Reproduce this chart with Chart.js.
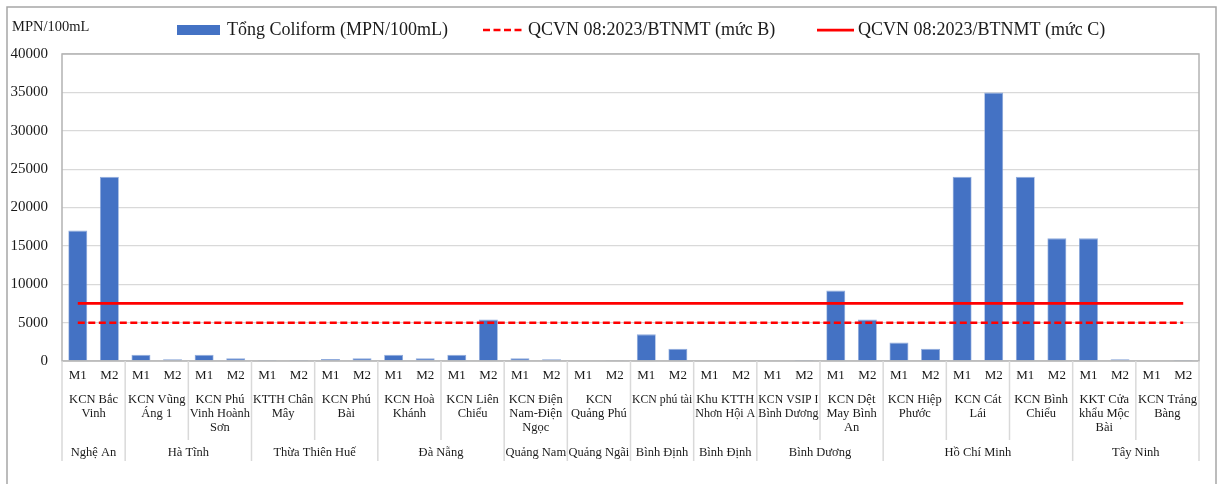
<!DOCTYPE html>
<html>
<head>
<meta charset="utf-8">
<script src="https://cdn.jsdelivr.net/npm/chart.js@4.4.1/dist/chart.umd.min.js"></script>
<style>
  html, body { margin: 0; padding: 0; background: #ffffff; }
  #wrap { width: 1218px; height: 484px; position: relative; }
</style>
</head>
<body>
<div id="wrap"><canvas id="c" width="1218" height="484"></canvas></div>
<script>
// ---------- DATA ----------
const categories = ['M1','M2','M1','M2','M1','M2','M1','M2','M1','M2','M1','M2','M1','M2','M1','M2','M1','M2',
                    'M1','M2','M1','M2','M1','M2','M1','M2','M1','M2','M1','M2','M1','M2','M1','M2','M1','M2'];

const siteNames = [
  ['KCN Bắc', 'Vinh'],
  ['KCN Vũng', 'Áng 1'],
  ['KCN Phú', 'Vinh Hoành', 'Sơn'],
  ['KTTH Chân', 'Mây'],
  ['KCN Phú', 'Bài'],
  ['KCN Hoà', 'Khánh'],
  ['KCN Liên', 'Chiểu'],
  ['KCN Điện', 'Nam-Điện', 'Ngọc'],
  ['KCN', 'Quảng Phú'],
  ['KCN phú tài'],
  ['Khu KTTH', 'Nhơn Hội A'],
  ['KCN VSIP I', 'Bình Dương'],
  ['KCN Dệt', 'May Bình', 'An'],
  ['KCN Hiệp', 'Phước'],
  ['KCN Cát', 'Lái'],
  ['KCN Bình', 'Chiểu'],
  ['KKT Cửa', 'khẩu Mộc', 'Bài'],
  ['KCN Trảng', 'Bàng']
];

const provinceNames = ['Nghệ An', 'Hà Tĩnh', 'Thừa Thiên Huế', 'Đà Nẵng', 'Quảng Nam', 'Quảng Ngãi',
                       'Bình Định', 'Bình Định', 'Bình Dương', 'Hồ Chí Minh', 'Tây Ninh'];
const provinceSiteCounts = [1, 2, 2, 2, 1, 1, 1, 1, 2, 3, 2];

const coliform = [17000, 24000, 800, 230, 800, 350, 130, 130, 270, 350,
                  800, 350, 800, 5400, 350, 220, 0, 110, 3500, 1600,
                  0, 0, 0, 130, 9200, 5400, 2400, 1600, 24000, 35000,
                  24000, 16000, 16000, 220, 0, 130];

const limitB = [5000, 5000, 5000, 5000, 5000, 5000, 5000, 5000, 5000, 5000, 5000, 5000,
                5000, 5000, 5000, 5000, 5000, 5000, 5000, 5000, 5000, 5000, 5000, 5000,
                5000, 5000, 5000, 5000, 5000, 5000, 5000, 5000, 5000, 5000, 5000, 5000];
const limitC = [7500, 7500, 7500, 7500, 7500, 7500, 7500, 7500, 7500, 7500, 7500, 7500,
                7500, 7500, 7500, 7500, 7500, 7500, 7500, 7500, 7500, 7500, 7500, 7500,
                7500, 7500, 7500, 7500, 7500, 7500, 7500, 7500, 7500, 7500, 7500, 7500];

const yTicks = [0, 5000, 10000, 15000, 20000, 25000, 30000, 35000, 40000];
const yUnit = 'MPN/100mL';
const seriesLabels = ['Tổng Coliform (MPN/100mL)', 'QCVN 08:2023/BTNMT (mức B)', 'QCVN 08:2023/BTNMT (mức C)'];

// ---------- STYLE ----------
const FONT = '"Liberation Serif", "Times New Roman", serif';
const BLUE = '#4472C4';
const BAR_EDGE = '#8eaadb';
const RED = '#FF0000';
const TEXT = '#1a1a1a';
const GRID = '#d9d9d9';
const FRAME = '#b3b3b3';

const decorPlugin = {
  id: 'decor',
  beforeDraw(chart) {
    const ctx = chart.ctx;
    ctx.save();
    ctx.fillStyle = '#ffffff';
    ctx.fillRect(0, 0, chart.width, chart.height);
    // outer frame
    ctx.strokeStyle = '#a6a6a6';
    ctx.lineWidth = 1.5;
    ctx.beginPath();
    ctx.moveTo(7, chart.height + 2);
    ctx.lineTo(7, 7);
    ctx.lineTo(chart.width - 2, 7);
    ctx.lineTo(chart.width - 2, chart.height + 2);
    ctx.stroke();

    // unit label
    ctx.fillStyle = TEXT;
    ctx.font = '14.5px ' + FONT;
    ctx.textBaseline = 'middle';
    ctx.textAlign = 'left';
    ctx.fillText(yUnit, 12, 27);

    // legend
    const ly = 30;
    ctx.font = '18px ' + FONT;
    ctx.fillStyle = BLUE;
    ctx.fillRect(177, 25, 43, 10);
    ctx.fillStyle = TEXT;
    ctx.fillText(seriesLabels[0], 227, ly);

    ctx.strokeStyle = RED;
    ctx.lineWidth = 2.5;
    ctx.setLineDash([7, 3.5]);
    ctx.beginPath(); ctx.moveTo(483, ly); ctx.lineTo(524, ly); ctx.stroke();
    ctx.setLineDash([]);
    ctx.fillText(seriesLabels[1], 528, ly);

    ctx.lineWidth = 2.75;
    ctx.beginPath(); ctx.moveTo(817, ly); ctx.lineTo(854, ly); ctx.stroke();
    ctx.fillText(seriesLabels[2], 858, ly);
    ctx.restore();
  },
  afterDatasetsDraw(chart) {
    const ctx = chart.ctx;
    const a = chart.chartArea;
    const xs = chart.scales.x;
    ctx.save();
    // plot frame
    ctx.strokeStyle = FRAME;
    ctx.lineWidth = 1.5;
    ctx.strokeRect(a.left, a.top, a.right - a.left, a.bottom - a.top);

    // category labels
    ctx.fillStyle = TEXT;
    ctx.textAlign = 'center';
    ctx.textBaseline = 'middle';
    ctx.font = '13px ' + FONT;
    categories.forEach((c, i) => {
      ctx.fillText(c, xs.getPixelForValue(i), 376);
    });

    // site names
    ctx.font = '12.5px ' + FONT;
    const half = (xs.getPixelForValue(1) - xs.getPixelForValue(0)) / 2;
    siteNames.forEach((lines, j) => {
      const cx = (xs.getPixelForValue(2 * j) + xs.getPixelForValue(2 * j + 1)) / 2;
      lines.forEach((ln, k) => ctx.fillText(ln, cx, 400 + 14 * k, 2 * half * 2 - 3));
    });

    // separators
    const provBoundary = new Set();
    let acc = 0;
    provinceSiteCounts.forEach(n => { provBoundary.add(acc); acc += n; });
    provBoundary.add(acc);
    ctx.strokeStyle = GRID;
    ctx.lineWidth = 1.5;
    for (let j = 0; j <= siteNames.length; j++) {
      let x;
      if (j === 0) x = a.left;
      else if (j === siteNames.length) x = a.right;
      else x = (xs.getPixelForValue(2 * j - 1) + xs.getPixelForValue(2 * j)) / 2;
      const yEnd = provBoundary.has(j) ? 461 : 440;
      ctx.beginPath();
      ctx.moveTo(x, a.bottom);
      ctx.lineTo(x, yEnd);
      ctx.stroke();
    }

    // provinces
    let s = 0;
    provinceNames.forEach((p, k) => {
      const n = provinceSiteCounts[k];
      const x0 = xs.getPixelForValue(2 * s) - half;
      const x1 = xs.getPixelForValue(2 * (s + n) - 1) + half;
      ctx.fillText(p, (x0 + x1) / 2, 453, x1 - x0 - 2);
      s += n;
    });
    ctx.restore();
  }
};

new Chart(document.getElementById('c'), {
  data: {
    labels: categories,
    datasets: [
      {
        type: 'line', label: seriesLabels[2], data: limitC,
        borderColor: RED, borderWidth: 2.75, pointRadius: 0, fill: false, order: 0
      },
      {
        type: 'line', label: seriesLabels[1], data: limitB,
        borderColor: RED, borderWidth: 2.5, borderDash: [7, 3.5], pointRadius: 0, fill: false, order: 0
      },
      {
        type: 'bar', label: seriesLabels[0], data: coliform,
        backgroundColor: BLUE, borderColor: BAR_EDGE, borderWidth: { top: 1, left: 0.75, right: 0.75, bottom: 0 },
        categoryPercentage: 1.0, barPercentage: 0.6, order: 1
      }
    ]
  },
  options: {
    responsive: false,
    animation: false,
    layout: { padding: { left: 0, right: 19, top: 54, bottom: 123 } },
    plugins: { legend: { display: false }, tooltip: { enabled: false } },
    scales: {
      x: { type: 'category', display: false, offset: true },
      y: {
        min: 0, max: 40000,
        afterFit(scale) { scale.width = 62; },
        afterBuildTicks(scale) { scale.ticks = yTicks.map(v => ({ value: v })); },
        border: { display: false },
        grid: { color: GRID, lineWidth: 1.25, drawTicks: false },
        ticks: {
          padding: 14,
          color: TEXT,
          font: { family: FONT, size: 15 },
          callback: v => String(v)
        }
      }
    }
  },
  plugins: [decorPlugin]
});
</script>
</body>
</html>
